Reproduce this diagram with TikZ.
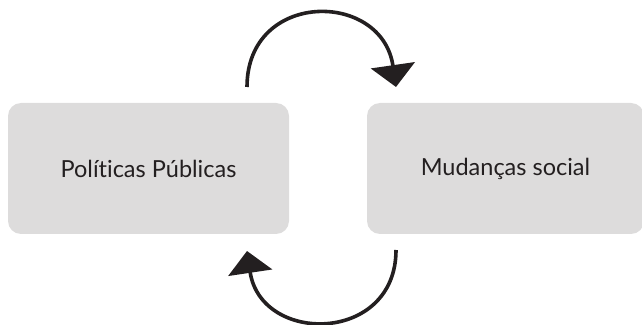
\documentclass[tikz,border=0pt]{standalone}
\usepackage{fontspec}
\setmainfont{Lato}[Ligatures=NoCommon]
\usetikzlibrary{arrows.meta}
\definecolor{boxgray}{RGB}{221,220,220}
\definecolor{textgray}{RGB}{35,31,32}
\tikzset{
    cyclebox/.style={rectangle, rounded corners=13pt, fill=boxgray, text=textgray,
        minimum width=281pt, minimum height=131pt, font=\fontsize{23.5}{27}\selectfont},
    cyclearrow/.style={line width=3.6pt, color=textgray,
        -{Triangle[length=22pt,width=44pt]}}
}
\begin{document}
\begin{tikzpicture}[x=1pt,y=1pt]
        \useasboundingbox (0,0) rectangle (642,324);
        \node[cyclebox] (PP) at (148.5,155.5) {Políticas Públicas};
        \node[cyclebox, minimum width=277pt] (MS) at (505.5,155.5) {Mudanças social};
        \coordinate (PPtop) at (247,237);
        \coordinate (MStop) at (396,237);
        \coordinate (MSbot) at (396,74);
        \coordinate (PPbot) at (247,73);
        \draw[cyclearrow] (PPtop) .. controls +(0,97) and +(-14,97) .. (MStop);
        \draw[cyclearrow] (MSbot) .. controls +(0,-94) and +(14,-94) .. (PPbot);
    \end{tikzpicture}
\end{document}
